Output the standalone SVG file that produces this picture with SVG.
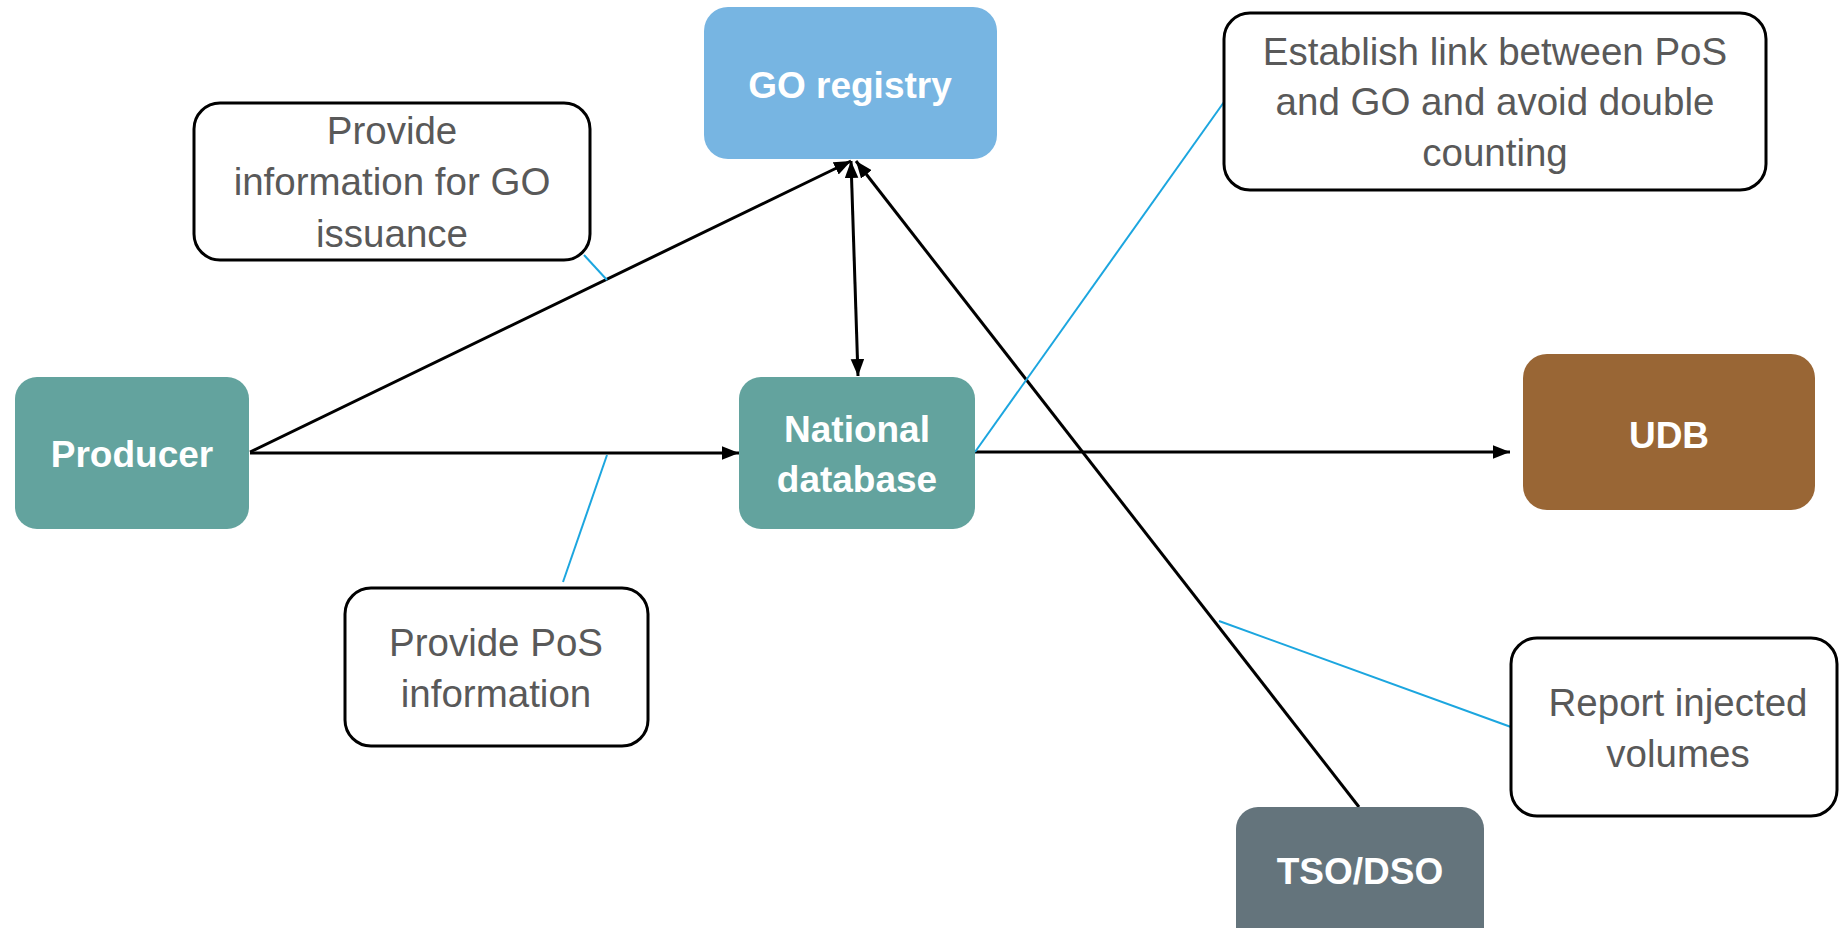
<svg xmlns="http://www.w3.org/2000/svg" width="1839" height="928" viewBox="0 0 1839 928">
<style>
.node{stroke:none}
.nlabel{font-family:"Liberation Sans",Arial,sans-serif;font-weight:bold;font-size:37px;fill:#ffffff;text-anchor:middle}
.callout{fill:#ffffff;stroke:#000000;stroke-width:3}
.clabel{font-family:"Liberation Sans",Arial,sans-serif;font-size:38.5px;fill:#595959;text-anchor:middle}
.arrow{stroke:#000000;stroke-width:3;fill:none}
.lead{stroke:#1CA6DF;stroke-width:2;fill:none}
</style>
<defs>
<marker id="ah" viewBox="0 0 10 8" refX="10" refY="4" markerUnits="userSpaceOnUse" markerWidth="17" markerHeight="14" orient="auto-start-reverse">
<path d="M0,0 L10,4 L0,8 z" fill="#000000"/>
</marker>
</defs>
<rect width="1839" height="928" fill="#ffffff"/>

<g id="connectors">
<line class="arrow" x1="250" y1="452" x2="851" y2="161" marker-end="url(#ah)"/>
<line class="arrow" x1="250" y1="453" x2="739" y2="453" marker-end="url(#ah)"/>
<line class="arrow" x1="851" y1="161" x2="858" y2="376" marker-start="url(#ah)" marker-end="url(#ah)"/>
<line class="arrow" x1="1359" y1="807" x2="856" y2="161" marker-end="url(#ah)"/>
<line class="arrow" x1="975" y1="452" x2="1510" y2="452" marker-end="url(#ah)"/>
<line class="lead" x1="584" y1="255" x2="607" y2="280"/>
<line class="lead" x1="1224" y1="102" x2="975" y2="452"/>
<line class="lead" x1="607" y1="455" x2="563" y2="582"/>
<line class="lead" x1="1511" y1="727" x2="1219" y2="621"/>
</g>

<g id="go-registry">
<rect class="node" x="704" y="7" width="293" height="152" rx="24" fill="#77B5E2"/>
<text class="nlabel" x="850" y="98">GO registry</text>
</g>
<g id="producer">
<rect class="node" x="15" y="377" width="234" height="152" rx="22" fill="#63A39E"/>
<text class="nlabel" x="132" y="467">Producer</text>
</g>
<g id="national-database">
<rect class="node" x="739" y="377" width="236" height="152" rx="22" fill="#63A39E"/>
<text class="nlabel" x="857" y="442">National</text>
<text class="nlabel" x="857" y="492">database</text>
</g>
<g id="udb">
<rect class="node" x="1523" y="354" width="292" height="156" rx="24" fill="#996635"/>
<text class="nlabel" x="1669" y="448">UDB</text>
</g>
<g id="tso-dso">
<rect class="node" x="1236" y="807" width="248" height="152" rx="22" fill="#64747C"/>
<text class="nlabel" x="1360" y="884">TSO/DSO</text>
</g>

<g id="note-go-issuance">
<rect class="callout" x="194" y="103" width="396" height="157" rx="26"/>
<text class="clabel" x="392" y="144">Provide</text>
<text class="clabel" x="392" y="195">information for GO</text>
<text class="clabel" x="392" y="247">issuance</text>
</g>
<g id="note-establish-link">
<rect class="callout" x="1224" y="13" width="542" height="177" rx="26"/>
<text class="clabel" x="1495" y="65">Establish link between PoS</text>
<text class="clabel" x="1495" y="115">and GO and avoid double</text>
<text class="clabel" x="1495" y="166">counting</text>
</g>
<g id="note-pos-info">
<rect class="callout" x="345" y="588" width="303" height="158" rx="26"/>
<text class="clabel" x="496" y="656">Provide PoS</text>
<text class="clabel" x="496" y="707">information</text>
</g>
<g id="note-report-volumes">
<rect class="callout" x="1511" y="638" width="326" height="178" rx="26"/>
<text class="clabel" x="1678" y="716">Report injected</text>
<text class="clabel" x="1678" y="767">volumes</text>
</g>
</svg>
